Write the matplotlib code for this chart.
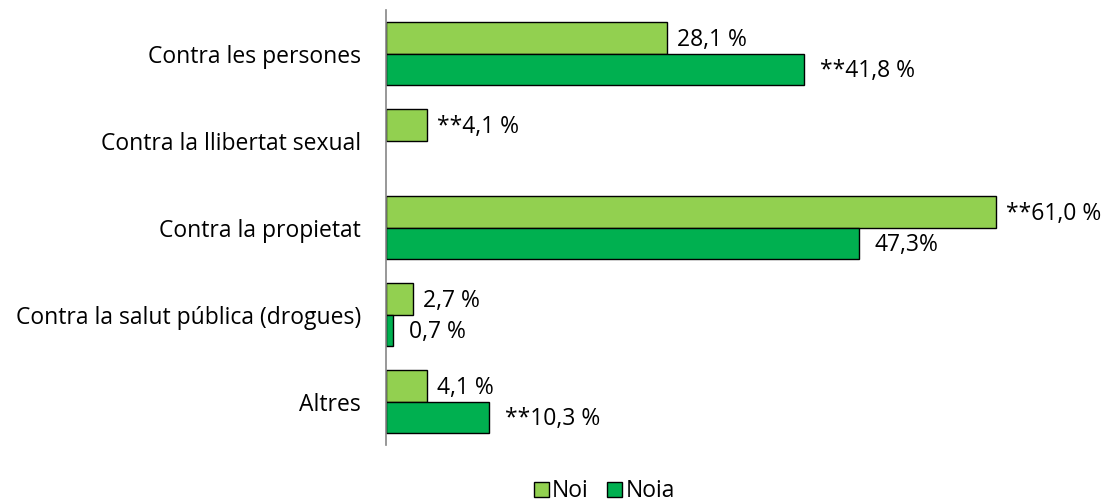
import numpy as np
import matplotlib.pyplot as plt
from matplotlib.patches import Patch

categories = ['Contra les persones', 'Contra la llibertat sexual', 'Contra la propietat',
              'Contra la salut pública (drogues)', 'Altres']
noi = [28.1, 4.1, 61.0, 2.7, 4.1]
noia = [41.8, np.nan, 47.3, 0.7, 10.3]
noi_labels = ['28,1 %', '**4,1 %', '**61,0 %', '2,7 %', '4,1 %']
noia_labels = ['**41,8 %', '', '47,3%', '0,7 %', '**10,3 %']

plt.rcParams['font.family'] = ['Open Sans', 'DejaVu Sans']
FS = 16.5

fig = plt.figure(figsize=(11.09, 5.04), dpi=100)
ax = fig.add_axes([0.348, 0.117, 0.631, 0.863])

y = np.arange(len(categories))
h = 0.362
c_noi = '#92D050'
c_noia = '#00B050'

ax.barh(y - h / 2, noi, height=h, color=c_noi, edgecolor='black', lw=1)
ax.barh(y + h / 2, noia, height=h, color=c_noia, edgecolor='black', lw=1)

for yi, v, lab in zip(y, noi, noi_labels):
    ax.text(v + 1.0, yi - h / 2 + 0.02, lab, va='center', ha='left', fontsize=FS)
for yi, v, lab in zip(y, noia, noia_labels):
    if lab:
        ax.text(v + 1.6, yi + h / 2 + 0.02, lab, va='center', ha='left', fontsize=FS)

ax.set_xlim(0, 70)
ax.set_ylim(len(categories) - 0.5, -0.5)
ax.set_yticks(y)
ax.set_yticklabels(categories, fontsize=FS)
ax.tick_params(axis='y', length=0, pad=18)
ax.set_xticks([])
for s in ['top', 'right', 'bottom']:
    ax.spines[s].set_visible(False)
ax.spines['left'].set_color('#868686')
ax.spines['left'].set_linewidth(1.2)

handles = [Patch(facecolor=c_noi, edgecolor='black', label='Noi'),
           Patch(facecolor=c_noia, edgecolor='black', label='Noia')]
fig.legend(handles=handles, loc='center', bbox_to_anchor=(0.545, 0.025), ncol=2,
           frameon=False, fontsize=FS, handlelength=0.65, handleheight=0.65,
           handletextpad=0.15, columnspacing=0.8)

plt.savefig('out.png', dpi=100)
